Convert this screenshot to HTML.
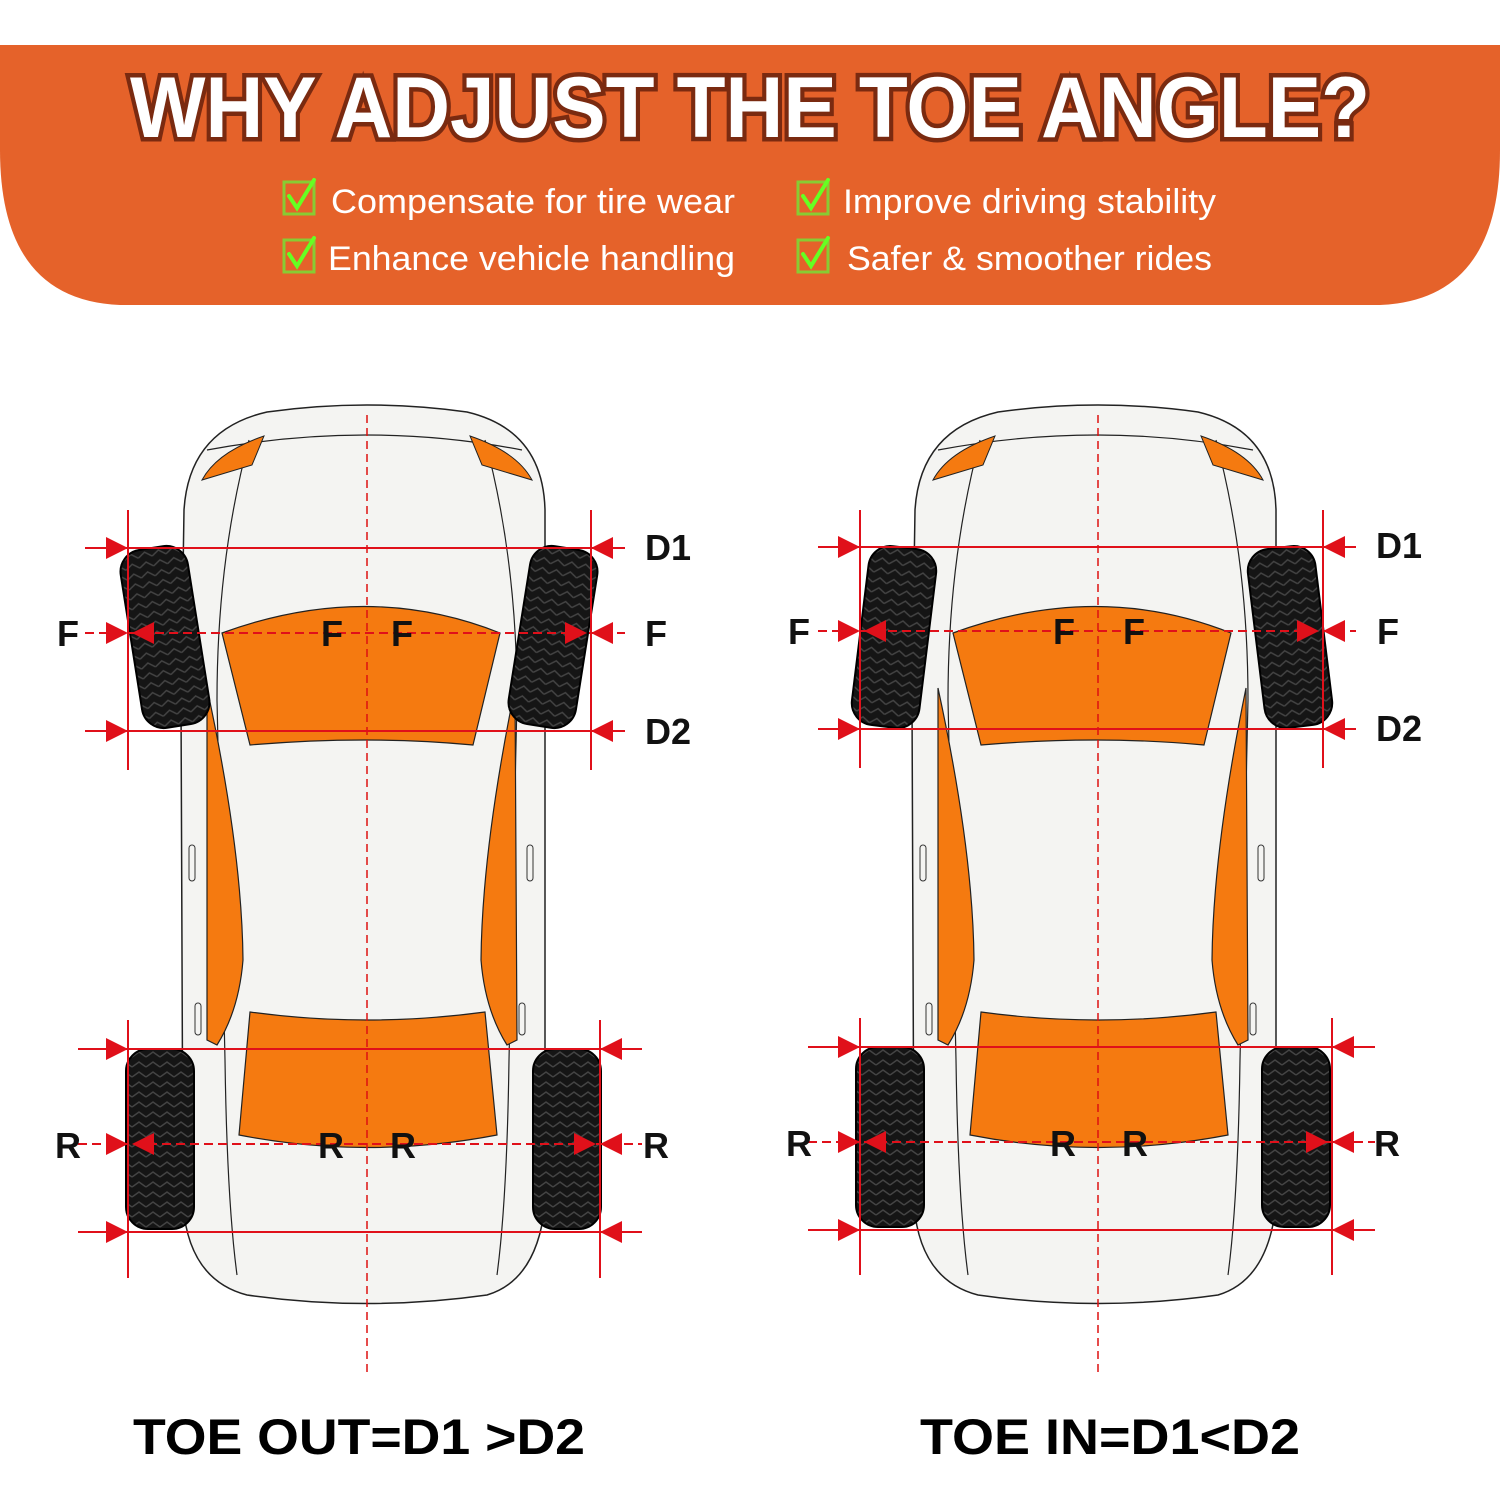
<!DOCTYPE html>
<html><head><meta charset="utf-8"><style>
html,body{margin:0;padding:0;background:#fff;width:1500px;height:1500px;overflow:hidden}
svg{display:block}
</style></head><body>
<svg width="1500" height="1500" viewBox="0 0 1500 1500" xmlns="http://www.w3.org/2000/svg">
<defs>
<pattern id="tread" width="14" height="10" patternUnits="userSpaceOnUse">
<rect width="14" height="10" fill="#151515"/>
<path d="M0 8 L7 3 L14 8" stroke="#444" stroke-width="1.5" fill="none"/>
</pattern>
<g id="car">
<path d="M-186,700 L-183,510 Q-178,430 -100,412 Q0,398 100,412 Q176,430 178,510 L178,1205 Q170,1280 120,1295 Q0,1312 -120,1295 Q-178,1280 -184,1205 Z" fill="#f4f4f2" stroke="#222" stroke-width="1.5"/>
<path d="M-160,450 Q0,420 155,450" fill="none" stroke="#222" stroke-width="1.2"/>
<path d="M-118,440 Q-150,560 -150,700 L-142,1060 Q-140,1200 -130,1275" fill="none" stroke="#222" stroke-width="1.2"/>
<path d="M118,440 Q150,560 150,700 L142,1060 Q140,1200 130,1275" fill="none" stroke="#222" stroke-width="1.2"/>
<path d="M-145,633 Q0,580 133,633 L106,745 Q0,735 -117,745 Z" fill="#f57a10" stroke="#222" stroke-width="1.2"/>
<path d="M-160,688 Q-125,850 -124,960 Q-128,1010 -150,1045 L-160,1040 Z" fill="#f57a10" stroke="#222" stroke-width="1.2"/>
<path d="M148,688 Q115,850 114,960 Q118,1010 140,1045 L150,1040 Z" fill="#f57a10" stroke="#222" stroke-width="1.2"/>
<path d="M-117,1012 Q0,1028 118,1012 L130,1135 Q0,1160 -128,1135 Z" fill="#f57a10" stroke="#222" stroke-width="1.2"/>
<path d="M-165,480 Q-150,452 -103,436 L-115,465 Z" fill="#f57a10" stroke="#222" stroke-width="1"/>
<path d="M165,480 Q150,452 103,436 L115,465 Z" fill="#f57a10" stroke="#222" stroke-width="1"/>
<rect x="-178" y="845" width="6" height="36" rx="3" fill="none" stroke="#333"/>
<rect x="160" y="845" width="6" height="36" rx="3" fill="none" stroke="#333"/>
<rect x="-172" y="1003" width="6" height="32" rx="3" fill="none" stroke="#333"/>
<rect x="152" y="1003" width="6" height="32" rx="3" fill="none" stroke="#333"/>
<line x1="0" y1="415" x2="0" y2="1375" stroke="#d11" stroke-width="1.5" stroke-dasharray="8,5"/>
</g>
<g id="tire"><rect x="-34" y="-90" width="68" height="180" rx="22" fill="url(#tread)" stroke="#000" stroke-width="2"/></g>
<path id="ar" d="M0,0 L-22,-11 L-22,11 Z" fill="#e0101a"/>
</defs>

<path d="M0,45 L1500,45 L1500,150 Q1500,300 1380,305 L120,305 Q0,300 0,150 Z" fill="#e5622a"/>
<text x="750" y="137" text-anchor="middle" font-family="Liberation Sans, sans-serif" font-weight="bold" font-size="86" textLength="1240" lengthAdjust="spacingAndGlyphs" fill="#fff" stroke="#7a2a10" stroke-width="9" paint-order="stroke">WHY ADJUST THE TOE ANGLE?</text>
<g font-family="Liberation Sans, sans-serif" font-size="34" fill="#fff">
<text x="331" y="213" textLength="404" lengthAdjust="spacingAndGlyphs">Compensate for tire wear</text>
<text x="843" y="213" textLength="373" lengthAdjust="spacingAndGlyphs">Improve driving stability</text>
<text x="328" y="270" textLength="407" lengthAdjust="spacingAndGlyphs">Enhance vehicle handling</text>
<text x="847" y="270" textLength="365" lengthAdjust="spacingAndGlyphs">Safer &amp; smoother rides</text>
</g>
<g fill="none" stroke-width="4" stroke-linecap="round">
<g transform="translate(284,182)"><rect width="30" height="32" stroke="#8c3" stroke-width="3"/><path d="M5,14 L13,26 L30,-2" stroke="#6f2"/></g>
<g transform="translate(798,182)"><rect width="30" height="32" stroke="#8c3" stroke-width="3"/><path d="M5,14 L13,26 L30,-2" stroke="#6f2"/></g>
<g transform="translate(284,240)"><rect width="30" height="32" stroke="#8c3" stroke-width="3"/><path d="M5,14 L13,26 L30,-2" stroke="#6f2"/></g>
<g transform="translate(798,240)"><rect width="30" height="32" stroke="#8c3" stroke-width="3"/><path d="M5,14 L13,26 L30,-2" stroke="#6f2"/></g>
</g>

<use href="#car" transform="translate(367,0)"/>
<use href="#car" transform="translate(1098,0)"/>

<use href="#tire" transform="translate(165,637) rotate(-9)"/>
<use href="#tire" transform="translate(553,637) rotate(9)"/>
<use href="#tire" transform="translate(160,1139)"/>
<use href="#tire" transform="translate(567,1139)"/>
<use href="#tire" transform="translate(894,637) rotate(7)"/>
<use href="#tire" transform="translate(1290,637) rotate(-7)"/>
<use href="#tire" transform="translate(890,1137)"/>
<use href="#tire" transform="translate(1296,1137)"/>

<g stroke="#e0101a" stroke-width="2" fill="none">
<line x1="128" y1="510" x2="128" y2="770"/><line x1="591" y1="510" x2="591" y2="770"/>
<line x1="85" y1="548" x2="625" y2="548"/><line x1="85" y1="731" x2="625" y2="731"/>
<line x1="85" y1="633" x2="625" y2="633" stroke-dasharray="9,5"/>
<line x1="128" y1="1020" x2="128" y2="1278"/><line x1="600" y1="1020" x2="600" y2="1278"/>
<line x1="78" y1="1049" x2="642" y2="1049"/><line x1="78" y1="1232" x2="642" y2="1232"/>
<line x1="78" y1="1144" x2="642" y2="1144" stroke-dasharray="9,5"/>
<line x1="860" y1="510" x2="860" y2="768"/><line x1="1323" y1="510" x2="1323" y2="768"/>
<line x1="818" y1="547" x2="1356" y2="547"/><line x1="818" y1="729" x2="1356" y2="729"/>
<line x1="818" y1="631" x2="1356" y2="631" stroke-dasharray="9,5"/>
<line x1="860" y1="1018" x2="860" y2="1275"/><line x1="1332" y1="1018" x2="1332" y2="1275"/>
<line x1="808" y1="1047" x2="1375" y2="1047"/><line x1="808" y1="1230" x2="1375" y2="1230"/>
<line x1="808" y1="1142" x2="1375" y2="1142" stroke-dasharray="9,5"/>
</g>
<g>
<use href="#ar" transform="translate(128,548)"/><use href="#ar" transform="translate(591,548) rotate(180)"/>
<use href="#ar" transform="translate(128,731)"/><use href="#ar" transform="translate(591,731) rotate(180)"/>
<use href="#ar" transform="translate(128,633)"/><use href="#ar" transform="translate(591,633) rotate(180)"/>
<use href="#ar" transform="translate(132,633) rotate(180)"/><use href="#ar" transform="translate(587,633)"/>
<use href="#ar" transform="translate(128,1049)"/><use href="#ar" transform="translate(600,1049) rotate(180)"/>
<use href="#ar" transform="translate(128,1232)"/><use href="#ar" transform="translate(600,1232) rotate(180)"/>
<use href="#ar" transform="translate(128,1144)"/><use href="#ar" transform="translate(600,1144) rotate(180)"/>
<use href="#ar" transform="translate(132,1144) rotate(180)"/><use href="#ar" transform="translate(596,1144)"/>
<use href="#ar" transform="translate(860,547)"/><use href="#ar" transform="translate(1323,547) rotate(180)"/>
<use href="#ar" transform="translate(860,729)"/><use href="#ar" transform="translate(1323,729) rotate(180)"/>
<use href="#ar" transform="translate(860,631)"/><use href="#ar" transform="translate(1323,631) rotate(180)"/>
<use href="#ar" transform="translate(864,631) rotate(180)"/><use href="#ar" transform="translate(1319,631)"/>
<use href="#ar" transform="translate(860,1047)"/><use href="#ar" transform="translate(1332,1047) rotate(180)"/>
<use href="#ar" transform="translate(860,1230)"/><use href="#ar" transform="translate(1332,1230) rotate(180)"/>
<use href="#ar" transform="translate(860,1142)"/><use href="#ar" transform="translate(1332,1142) rotate(180)"/>
<use href="#ar" transform="translate(864,1142) rotate(180)"/><use href="#ar" transform="translate(1328,1142)"/>
</g>

<g font-family="Liberation Sans, sans-serif" font-weight="bold" font-size="36" fill="#111">
<text x="645" y="560">D1</text><text x="645" y="744">D2</text>
<text x="57" y="646">F</text><text x="645" y="646">F</text>
<text x="321" y="646">F</text><text x="391" y="646">F</text>
<text x="55" y="1158">R</text><text x="643" y="1158">R</text>
<text x="318" y="1158">R</text><text x="390" y="1158">R</text>
<text x="1376" y="558">D1</text><text x="1376" y="741">D2</text>
<text x="788" y="644">F</text><text x="1377" y="644">F</text>
<text x="1053" y="644">F</text><text x="1123" y="644">F</text>
<text x="786" y="1156">R</text><text x="1374" y="1156">R</text>
<text x="1050" y="1156">R</text><text x="1122" y="1156">R</text>
</g>
<g font-family="Liberation Sans, sans-serif" font-weight="bold" font-size="50" fill="#000">
<text x="133" y="1454" textLength="452" lengthAdjust="spacingAndGlyphs">TOE OUT=D1 &gt;D2</text>
<text x="920" y="1454" textLength="380" lengthAdjust="spacingAndGlyphs">TOE IN=D1&lt;D2</text>
</g>
</svg>
</body></html>
